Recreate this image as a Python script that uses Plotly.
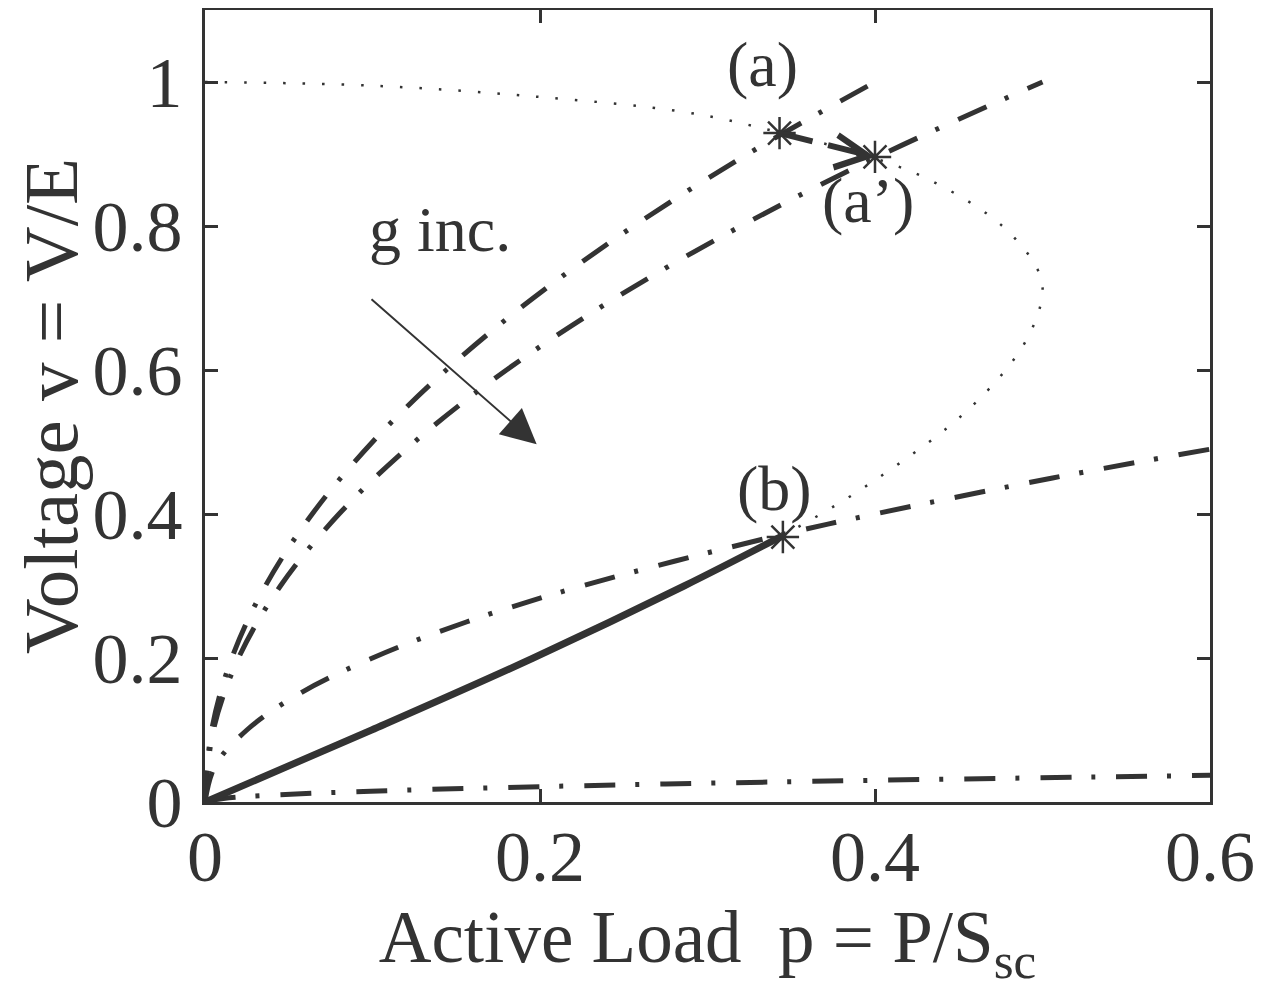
import plotly.graph_objects as go

# ---- data ----
# PV nose curve (dotted), p = active load, v = voltage
pv_p = [0.0, 0.099, 0.196, 0.287, 0.343, 0.400, 0.436, 0.476, 0.497, 0.500, 0.490, 0.458, 0.400, 0.345, 0.286, 0.196, 0.0995, 0.0]
pv_v = [1.0, 0.995, 0.980, 0.958, 0.930, 0.894, 0.860, 0.800, 0.740, 0.707, 0.640, 0.550, 0.447, 0.370, 0.300, 0.200, 0.100, 0.0]

# Lower branch, solid (origin to point (b))
low_p = [0.0, 0.0995, 0.196, 0.286, 0.345]
low_v = [0.0, 0.100, 0.200, 0.300, 0.370]

# Load characteristics (dash-dot)
la_p = [0.0, 0.004, 0.016, 0.036, 0.064, 0.100, 0.144, 0.196, 0.256, 0.324, 0.400]
la_v = [0.0, 0.10, 0.20, 0.30, 0.40, 0.50, 0.60, 0.70, 0.80, 0.90, 1.00]

lb_p = [0.0, 0.005, 0.020, 0.045, 0.080, 0.125, 0.180, 0.245, 0.320, 0.405, 0.500]
lb_v = [0.0, 0.10, 0.20, 0.30, 0.40, 0.50, 0.60, 0.70, 0.80, 0.90, 1.00]

lc_p = [0.0, 0.006, 0.025, 0.056, 0.100, 0.156, 0.225, 0.342, 0.400, 0.506, 0.600]
lc_v = [0.0, 0.05, 0.10, 0.15, 0.20, 0.25, 0.30, 0.37, 0.40, 0.45, 0.49]

ld_p = [0.0, 0.011, 0.044, 0.099, 0.176, 0.275, 0.396, 0.539, 0.600]
ld_v = [0.0, 0.005, 0.010, 0.015, 0.020, 0.025, 0.030, 0.035, 0.037]

# Operating points
pt_labels = ["(a)", "(a’)", "(b)"]
pt_p = [0.343, 0.400, 0.345]
pt_v = [0.929, 0.896, 0.368]

x_ticks = [0, 0.2, 0.4, 0.6]
x_ticktext = ["0", "0.2", "0.4", "0.6"]
y_ticks = [0, 0.2, 0.4, 0.6, 0.8, 1.0]
y_ticktext = ["0", "0.2", "0.4", "0.6", "0.8", "1"]

INK = "#333333"
FONT = "Liberation Serif"
DASHDOT = "31px,20px,4px,21px"

fig = go.Figure()

def add_line(xs, ys, dash, width):
    fig.add_trace(go.Scatter(x=xs, y=ys, mode="lines", line=dict(color=INK, width=width, dash=dash, shape="spline"),
                             showlegend=False, hoverinfo="skip"))

add_line(pv_p, pv_v, "2.5px,17px", 2.5)
add_line(la_p, la_v, DASHDOT, 5)
add_line(lb_p, lb_v, DASHDOT, 5)
add_line(lc_p, lc_v, DASHDOT, 5)
add_line(ld_p, ld_v, DASHDOT, 5)
add_line(low_p, low_v, "solid", 7)

# thick dashed transition (a) -> (a')
fig.add_trace(go.Scatter(x=pt_p[:2], y=pt_v[:2], mode="lines",
                         line=dict(color=INK, width=6, dash="34px,16px"),
                         showlegend=False, hoverinfo="skip"))

# star markers
fig.add_trace(go.Scatter(x=pt_p, y=pt_v, mode="markers",
                         marker=dict(symbol="asterisk-open", size=27, color=INK, line=dict(color=INK, width=2.5)),
                         showlegend=False, hoverinfo="skip"))

# arrow head at (a')
fig.add_annotation(x=pt_p[1], y=pt_v[1], ax=pt_p[1] - 0.012, ay=pt_v[1] + 0.004,
                   xref="x", yref="y", axref="x", ayref="y", showarrow=True,
                   arrowhead=5, arrowsize=1.6, arrowwidth=4, arrowcolor=INK, text="")

# point labels
lab_pos = [(0.333, 1.024), (0.396, 0.836), (0.340, 0.436)]
for t, (lx, ly) in zip(pt_labels, lab_pos):
    fig.add_annotation(x=lx, y=ly, text=t, showarrow=False, xref="x", yref="y",
                       font=dict(family=FONT, size=64, color=INK))

# g inc. label & arrow
fig.add_annotation(x=0.140, y=0.795, text="g inc.", showarrow=False, xref="x", yref="y",
                   font=dict(family=FONT, size=64, color=INK))
fig.add_annotation(x=0.198, y=0.497, ax=0.0985, ay=0.700, xref="x", yref="y", axref="x", ayref="y",
                   showarrow=True, arrowhead=2, arrowsize=3.5, arrowwidth=2, arrowcolor=INK, text="")

axis_common = dict(showline=True, linecolor=INK, linewidth=3, mirror="ticks", ticks="inside",
                   ticklen=13, tickwidth=2.5, tickcolor=INK, showgrid=False, zeroline=False,
                   automargin=False, tickfont=dict(family=FONT, size=72, color=INK))

fig.update_layout(
    width=1262, height=1002,
    margin=dict(l=197, r=60, t=2, b=208),
    paper_bgcolor="white", plot_bgcolor="white",
    xaxis=dict(range=[0, 0.6], tickvals=x_ticks, ticktext=x_ticktext,
               title=dict(text="Active Load  p = P/S<sub>sc</sub>", font=dict(family=FONT, size=73, color=INK), standoff=12),
               ticklabelstandoff=-10, **axis_common),
    yaxis=dict(range=[0, 1.1], tickvals=y_ticks, ticktext=y_ticktext,
               title=dict(text="Voltage v = V/E", font=dict(family=FONT, size=77, color=INK), standoff=10),
               ticklabelstandoff=5, **axis_common),
)

fig.write_html("out.html")
